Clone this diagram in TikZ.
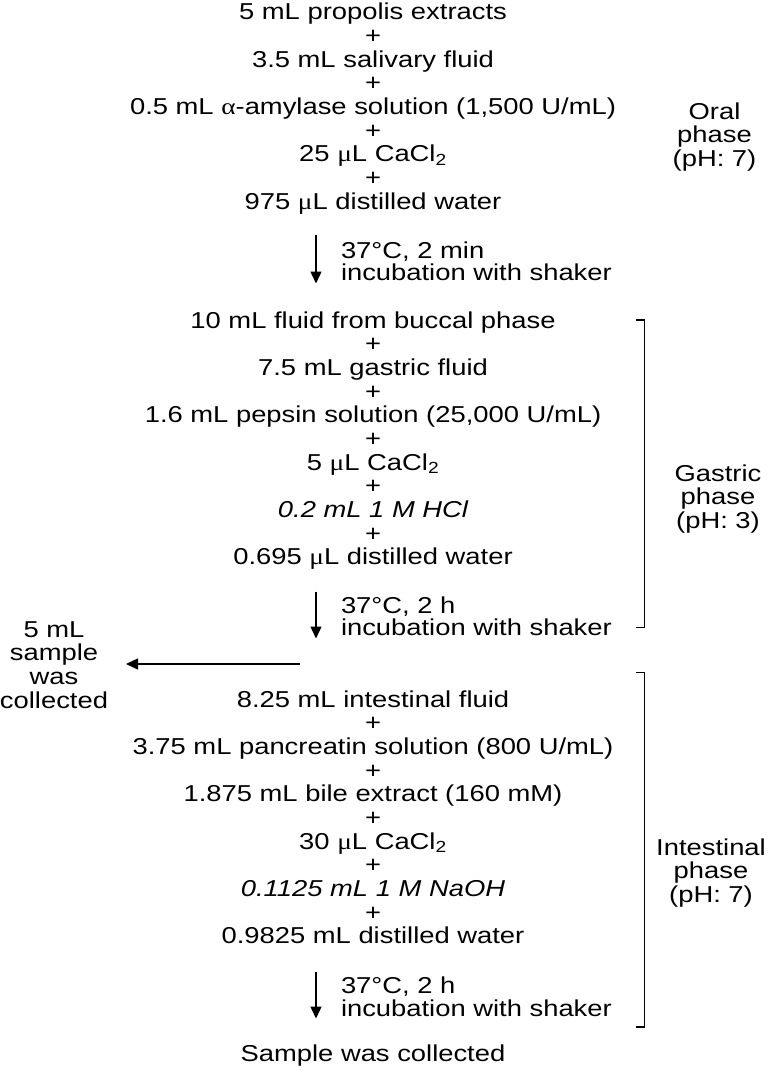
\documentclass[tikz,border=0pt]{standalone}
\usepackage{fontspec}
\setmainfont{Liberation Sans}[FakeStretch=1.19]
\newfontfamily\grk{Liberation Serif}[FakeStretch=1.19]
\usetikzlibrary{arrows.meta}
\newcommand{\mug}{{\grk μ}}
\newcommand{\alg}{{\grk α}}
\begin{document}
\begin{tikzpicture}[x=1pt,y=-1pt,
  every node/.style={inner sep=0pt, outer sep=0pt, font=\fontsize{23}{23.65}\selectfont},
  row/.style={anchor=base},
  inc/.style={anchor=base west},
  side/.style={anchor=base},
  flow/.style={line width=1.4pt, -{Triangle[length=12pt,width=11pt]}},
  brk/.style={line width=1.4pt}]
\useasboundingbox (0,0) rectangle (771,1073);
% Oral phase
\node[row] (o1) at (373,20) {5 mL propolis extracts};
\node[row] (o2) at (373,43.65) {+};
\node[row] (o3) at (373,67.3) {3.5 mL salivary fluid};
\node[row] (o4) at (373,90.95) {+};
\node[row] (o5) at (373,114.6) {0.5 mL \alg-amylase solution (1,500 U/mL)};
\node[row] (o6) at (373,138.25) {+};
\node[row] (o7) at (373,161.9) {25 \mug L CaCl\textsubscript{2}};
\node[row] (o8) at (373,185.55) {+};
\node[row] (o9) at (373,209.2) {975 \mug L distilled water};
\node[side] (os1) at (714.5,119.3) {Oral};
\node[side] (os2) at (714.5,142.95) {phase};
\node[side] (os3) at (714.5,166.6) {(pH: 7)};
% incubation 1
\node[inc] (i1a) at (341,258) {37°C, 2 min};
\node[inc] (i1b) at (341,280.5) {incubation with shaker};
\coordinate (a1s) at (316,235);
\coordinate (a1e) at (316,283.5);
\draw[flow] (a1s) -- (a1e);
% Gastric phase
\node[row] (g1) at (373,328.3) {10 mL fluid from buccal phase};
\node[row] (g2) at (373,351.95) {+};
\node[row] (g3) at (373,375.6) {7.5 mL gastric fluid};
\node[row] (g4) at (373,399.25) {+};
\node[row] (g5) at (373,422.9) {1.6 mL pepsin solution (25,000 U/mL)};
\node[row] (g6) at (373,446.55) {+};
\node[row] (g7) at (373,470.2) {5 \mug L CaCl\textsubscript{2}};
\node[row] (g8) at (373,493.85) {+};
\node[row] (g9) at (373,517.5) {\itshape 0.2 mL 1 M HCl};
\node[row] (g10) at (373,541.15) {+};
\node[row] (g11) at (373,564.8) {0.695 \mug L distilled water};
\node[side] (gs1) at (718,481) {Gastric};
\node[side] (gs2) at (718,504.65) {phase};
\node[side] (gs3) at (718,528.3) {(pH: 3)};
\draw[brk] (636,320) -- (644.5,320) -- (644.5,627.7) -- (636,627.7);
% incubation 2
\node[inc] (i2a) at (341,613) {37°C, 2 h};
\node[inc] (i2b) at (341,635.5) {incubation with shaker};
\coordinate (a2s) at (316,591.5);
\coordinate (a2e) at (316,638.5);
\draw[flow] (a2s) -- (a2e);
% side sample
\coordinate (hs) at (300,664);
\coordinate (he) at (126,664);
\draw[flow] (hs) -- (he);
\node[side] (l1) at (54,637) {5 mL};
\node[side] (l2) at (54,660.65) {sample};
\node[side] (l3) at (54,684.3) {was};
\node[side] (l4) at (54,708) {collected};
% Intestinal phase
\node[row] (n1) at (373,707.3) {8.25 mL intestinal fluid};
\node[row] (n2) at (373,730.95) {+};
\node[row] (n3) at (373,754.6) {3.75 mL pancreatin solution (800 U/mL)};
\node[row] (n4) at (373,778.25) {+};
\node[row] (n5) at (373,801.9) {1.875 mL bile extract (160 mM)};
\node[row] (n6) at (373,825.55) {+};
\node[row] (n7) at (373,849.2) {30 \mug L CaCl\textsubscript{2}};
\node[row] (n8) at (373,872.85) {+};
\node[row] (n9) at (373,896.5) {\itshape 0.1125 mL 1 M NaOH};
\node[row] (n10) at (373,920.15) {+};
\node[row] (n11) at (373,943.8) {0.9825 mL distilled water};
\node[side] (ns1) at (711,855) {Intestinal};
\node[side] (ns2) at (711,878.65) {phase};
\node[side] (ns3) at (711,902.3) {(pH: 7)};
\draw[brk] (636,672.5) -- (644.5,672.5) -- (644.5,1027) -- (636,1027);
% incubation 3
\node[inc] (i3a) at (341,993.5) {37°C, 2 h};
\node[inc] (i3b) at (341,1016) {incubation with shaker};
\coordinate (a3s) at (316,971.7);
\coordinate (a3e) at (316,1018.5);
\draw[flow] (a3s) -- (a3e);
\node[row] (end) at (373,1061.7) {Sample was collected};
\end{tikzpicture}
\end{document}
